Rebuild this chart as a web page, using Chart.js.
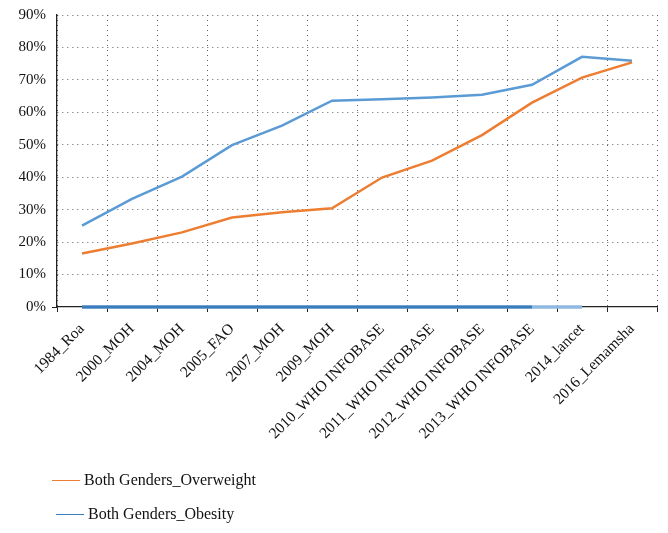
<!DOCTYPE html>
<html>
<head>
<meta charset="utf-8">
<script src="https://cdn.jsdelivr.net/npm/chart.js@4/dist/chart.umd.min.js"></script>
<style>
  body { margin: 0; background: #fff; }
  #wrap { position: relative; width: 668px; height: 533px; }
  .legend-item { position: absolute; font: 16px "Liberation Serif", "DejaVu Serif", serif; color: #111; display: flex; align-items: center; }
  .legend-item span.swatch { display: inline-block; width: 28px; height: 0; border-top: 1.5px solid; margin-right: 4px; }
</style>
</head>
<body>
<div id="wrap">
  <canvas id="chart" width="668" height="533"></canvas>
  <div id="legend"></div>
</div>
<script>
  // categories (survey year + source)
  const categories = ['1984_Roa', '2000_MOH', '2004_MOH', '2005_FAO', '2007_MOH', '2009_MOH',
    '2010_WHO INFOBASE', '2011_WHO INFOBASE', '2012_WHO INFOBASE', '2013_WHO INFOBASE',
    '2014_lancet', '2016_Lemamsha'];

  // percentages
  const overweight = [16.5, 19.6, 23.0, 27.6, 29.2, 30.4, 39.9, 45.1, 53.0, 63.0, 70.7, 75.4];
  const upperBlue = [25.1, 33.3, 40.2, 49.9, 55.9, 63.6, 64.0, 64.6, 65.4, 68.5, 77.1, 75.9];
  const obesity = [0, 0, 0, 0, 0, 0, 0, 0, 0, 0, null, null];
  const zeroLight = [0, 0, 0, 0, 0, 0, 0, 0, 0, 0, 0, null];

  const yTicks = [0, 10, 20, 30, 40, 50, 60, 70, 80, 90];

  const FONT = '"Liberation Serif", "DejaVu Serif", serif';
  const dotted = 'rgba(70,70,70,0.85)';

  const ctx = document.getElementById('chart').getContext('2d');
  const chart = new Chart(ctx, {
    type: 'line',
    data: {
      labels: categories,
      datasets: [
        { label: 'Both Genders_Overweight', data: overweight, borderColor: '#ed7d31', borderWidth: 2.5, pointRadius: 0 },
        { label: 'upper', data: upperBlue, borderColor: '#5b9bd5', borderWidth: 2.5, pointRadius: 0 },
        { label: 'Both Genders_Obesity', data: obesity, borderColor: '#3b7cbc', borderWidth: 3, pointRadius: 0, clip: false },
        { label: 'zeroLight', data: zeroLight, borderColor: '#8fb9e0', borderWidth: 3.5, pointRadius: 0, clip: false }
      ]
    },
    options: {
      responsive: false,
      animation: false,
      layout: { padding: { left: 0, top: 15, right: 11, bottom: 0 } },
      plugins: {
        legend: { display: false },
        tooltip: { enabled: false }
      },
      scales: {
        x: {
          offset: true,
          grid: {
            offset: true,
            color: dotted,
            drawTicks: true,
            tickLength: 5,
            tickColor: '#222',
            tickBorderDash: [],
            tickWidth: 1
          },
          border: { display: true, color: '#222', width: 1.3, dash: [1, 4] },
          ticks: {
            color: '#111',
            font: { family: FONT, size: 15.5 },
            minRotation: 45,
            maxRotation: 45,
            autoSkip: false,
            padding: 8
          },
          afterFit: s => { s.height = 533 - 307; }
        },
        y: {
          min: 0,
          max: 90,
          afterBuildTicks: s => { s.ticks = yTicks.map(v => ({ value: v })); },
          grid: {
            color: c => c.tick && c.tick.value === 0 ? 'rgba(0,0,0,0)' : dotted,
            tickLength: 5,
            tickColor: c => c.tick && c.tick.value === 0 ? '#222' : 'rgba(0,0,0,0)',
            tickBorderDash: []
          },
          border: { display: true, color: '#222', width: 1.3, dash: [1, 4] },
          ticks: {
            color: '#111',
            font: { family: FONT, size: 15 },
            padding: 6,
            callback: v => v + '%'
          },
          afterFit: s => { s.width = 57; }
        }
      }
    }
  });

  // legend below the chart, built from the datasets
  const legendPos = { 'Both Genders_Overweight': [52, 481], 'Both Genders_Obesity': [56, 515] };
  const legendEl = document.getElementById('legend');
  ['Both Genders_Overweight', 'Both Genders_Obesity'].forEach(name => {
    const ds = chart.data.datasets.find(d => d.label === name);
    const [x, y] = legendPos[name];
    const div = document.createElement('div');
    div.className = 'legend-item';
    div.style.left = x + 'px';
    div.style.top = (y - 10) + 'px';
    div.innerHTML = `<span class="swatch" style="border-color:${ds.borderColor}"></span><span>${name}</span>`;
    legendEl.appendChild(div);
  });
</script>
</body>
</html>
